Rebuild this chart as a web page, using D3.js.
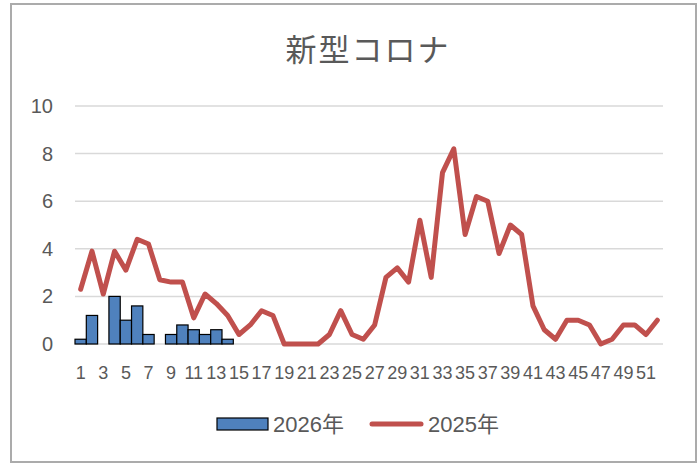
<!DOCTYPE html>
<html>
<head>
<meta charset="utf-8">
<script src="https://cdn.jsdelivr.net/npm/d3@7"></script>
<style>
  body { margin: 0; background: #fff; }
  text { fill: #595959; font-family: "Liberation Sans", "Noto Sans CJK JP", sans-serif; }
</style>
</head>
<body>
<svg id="chart" width="700" height="465"></svg>
<script>
// weekly values
var weeks = d3.range(1, 53);
var cases2026 = [0.2, 1.2, 0, 2.0, 1.0, 1.6, 0.4, 0, 0.4, 0.8, 0.6, 0.4, 0.6, 0.2];
var cases2025 = [2.3, 3.9, 2.1, 3.9, 3.1, 4.4, 4.2, 2.7, 2.6, 2.6, 1.1, 2.1, 1.7, 1.2, 0.4, 0.8,
    1.4, 1.2, 0, 0, 0, 0, 0.4, 1.4, 0.4, 0.2, 0.8, 2.8, 3.2, 2.6, 5.2, 2.8, 7.2, 8.2, 4.6, 6.2,
    6.0, 3.8, 5.0, 4.6, 1.6, 0.6, 0.2, 1.0, 1.0, 0.8, 0, 0.2, 0.8, 0.8, 0.4, 1.0];
var yTicks = [0, 2, 4, 6, 8, 10];
var seriesNames = ["2026年", "2025年"];
var title = "新型コロナ";

var blue = "#4f81bd",
    red = "#c0504d",
    grid = "#d9d9d9";

var svg = d3.select("#chart");

svg.append("rect")
    .attr("x", 11).attr("y", 4)
    .attr("width", 685).attr("height", 458)
    .attr("fill", "#fff")
    .attr("stroke", "#ababab")
    .attr("stroke-width", 2);

var x = d3.scaleBand()
    .domain(weeks)
    .range([75, 663])
    .padding(0);

var y = d3.scaleLinear()
    .domain([0, 10])
    .range([344, 106]);

// gridlines
svg.append("g")
    .selectAll("line")
    .data(yTicks)
    .enter().append("line")
    .attr("x1", 75).attr("x2", 663)
    .attr("y1", function (d) { return y(d); })
    .attr("y2", function (d) { return y(d); })
    .attr("stroke", grid)
    .attr("stroke-width", 1.5);

// y labels
svg.append("g")
    .selectAll("text")
    .data(yTicks)
    .enter().append("text")
    .attr("x", 53)
    .attr("y", function (d) { return y(d); })
    .attr("dy", "0.35em")
    .attr("text-anchor", "end")
    .style("font-size", "20px")
    .text(function (d) { return d; });

// x labels, every other week
svg.append("g")
    .selectAll("text")
    .data(weeks.filter(function (d) { return d % 2 === 1; }))
    .enter().append("text")
    .attr("x", function (d) { return x(d) + x.bandwidth() / 2; })
    .attr("y", 379)
    .attr("text-anchor", "middle")
    .style("font-size", "18px")
    .text(function (d) { return d; });

// bars (2026)
svg.append("g")
    .selectAll("rect")
    .data(cases2026.map(function (v, i) { return { week: weeks[i], value: v }; })
        .filter(function (d) { return d.value > 0; }))
    .enter().append("rect")
    .attr("x", function (d) { return x(d.week); })
    .attr("y", function (d) { return y(d.value); })
    .attr("width", x.bandwidth())
    .attr("height", function (d) { return y(0) - y(d.value); })
    .attr("fill", blue)
    .attr("stroke", "#000")
    .attr("stroke-width", 1.2);

// line (2025)
var line = d3.line()
    .x(function (d, i) { return x(weeks[i]) + x.bandwidth() / 2; })
    .y(function (d) { return y(d); });

svg.append("path")
    .datum(cases2025)
    .attr("d", line)
    .attr("fill", "none")
    .attr("stroke", red)
    .attr("stroke-width", 5)
    .attr("stroke-linejoin", "round")
    .attr("stroke-linecap", "round");

// title
svg.append("text")
    .attr("x", 368)
    .attr("y", 61)
    .attr("text-anchor", "middle")
    .style("font-family", "'Noto Sans CJK JP', sans-serif")
    .style("font-size", "31px")
    .style("letter-spacing", "2px")
    .text(title);

// legend
var legend = svg.append("g");
legend.append("rect")
    .attr("x", 217).attr("y", 418)
    .attr("width", 51).attr("height", 12)
    .attr("fill", blue)
    .attr("stroke", "#000")
    .attr("stroke-width", 1.2);
legend.append("text")
    .attr("x", 273).attr("y", 432)
    .style("font-size", "22px")
    .text(seriesNames[0]);
legend.append("line")
    .attr("x1", 372).attr("x2", 421)
    .attr("y1", 424).attr("y2", 424)
    .attr("stroke", red)
    .attr("stroke-width", 5)
    .attr("stroke-linecap", "round");
legend.append("text")
    .attr("x", 428).attr("y", 432)
    .style("font-size", "22px")
    .text(seriesNames[1]);
</script>
</body>
</html>
